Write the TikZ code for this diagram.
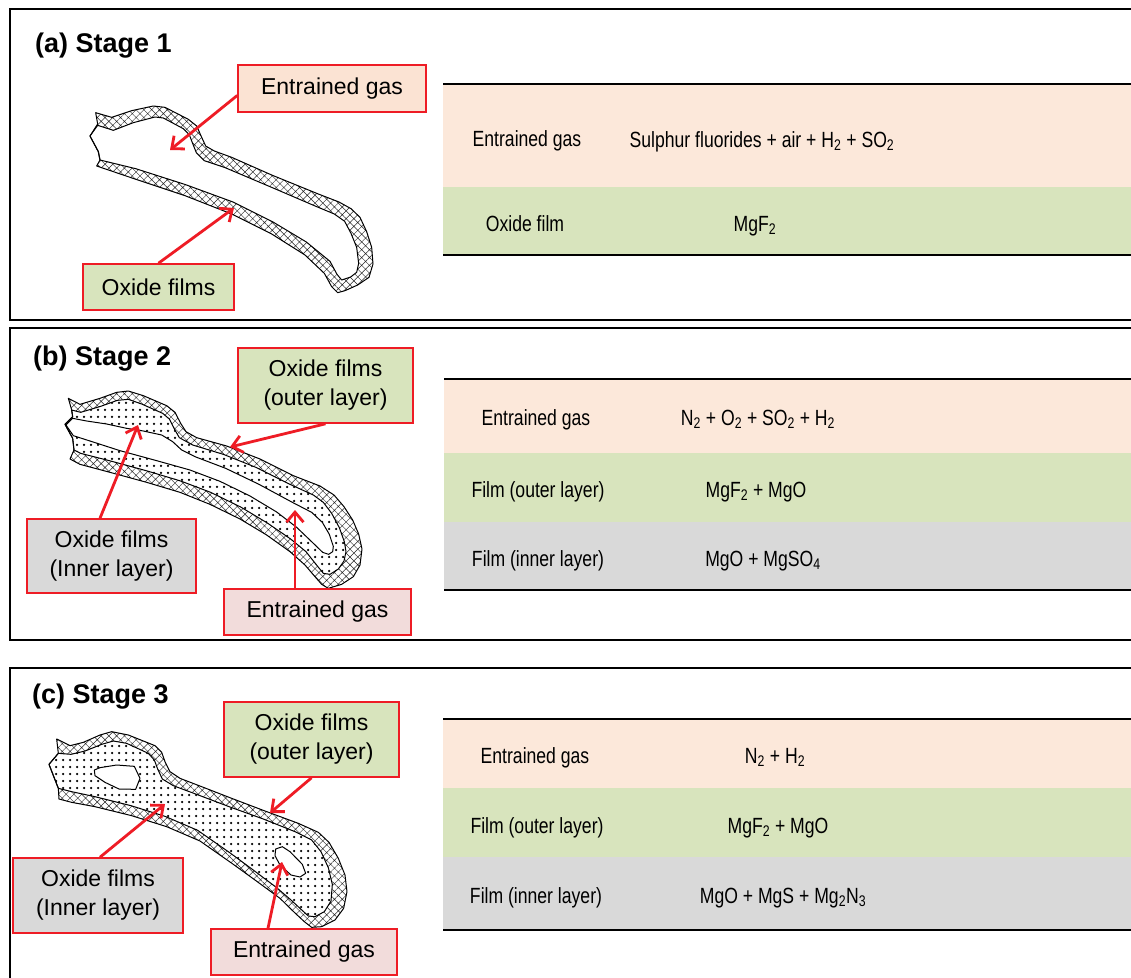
\documentclass[tikz,border=0pt]{standalone}
\usepackage{fontspec}
\setmainfont{Liberation Sans}
\newfontfamily\narrowfont[FakeStretch=0.8]{Liberation Sans}
\usetikzlibrary{patterns.meta,arrows.meta}
\definecolor{peach}{HTML}{FCE8DA}
\definecolor{peachbox}{HTML}{FBE3D3}
\definecolor{oliveg}{HTML}{D8E4BD}
\definecolor{greyrow}{HTML}{D9D9D9}
\definecolor{pinkbox}{HTML}{F2DCDB}
\definecolor{arrowred}{HTML}{EE1C25}
\newcommand{\shapeOA}{(32,38) -- (80,52) -- (140,32) -- (205,18) -- (240,22) -- (310,58) -- (335,78) -- (350,112) -- (362,138) -- (388,153) -- (440,172) -- (560,225) -- (700,282) -- (762,306) -- (798,326) -- (825,352) -- (845,395) -- (860,442) -- (864,492) -- (852,532) -- (818,555) -- (780,572) -- (758,578) -- (740,560) -- (718,520) -- (660,465) -- (560,402) -- (440,342) -- (300,287) -- (150,237) -- (35,198) -- (45,180) -- (40,155) -- (15,108) -- (38,72) -- cycle}
\newcommand{\shapeCA}{(38,76) -- (85,91) -- (145,68) -- (210,51) -- (235,54) -- (295,86) -- (313,104) -- (322,128) -- (334,158) -- (358,182) -- (418,202) -- (548,257) -- (688,317) -- (748,342) -- (779,364) -- (798,400) -- (815,442) -- (821,490) -- (815,517) -- (797,531) -- (770,540) -- (756,523) -- (735,484) -- (664,426) -- (564,366) -- (444,306) -- (302,254) -- (152,206) -- (45,180) -- (40,155) -- (15,108) -- cycle}
\newcommand{\shapeOB}{(25,40) -- (60,58) -- (120,40) -- (170,22) -- (205,18) -- (250,32) -- (320,62) -- (345,82) -- (362,115) -- (378,140) -- (410,158) -- (500,183) -- (600,222) -- (700,272) -- (780,303) -- (822,330) -- (852,365) -- (878,405) -- (896,447) -- (906,492) -- (900,540) -- (880,575) -- (845,598) -- (805,610) -- (785,598) -- (765,575) -- (735,540) -- (690,500) -- (620,450) -- (540,402) -- (450,358) -- (360,322) -- (260,292) -- (150,262) -- (60,238) -- (30,222) -- (42,195) -- (38,160) -- (15,118) -- (38,95) -- (35,75) -- cycle}
\newcommand{\shapeMB}{(35,75) -- (62,82) -- (122,64) -- (172,46) -- (205,43) -- (245,57) -- (308,85) -- (328,102) -- (342,130) -- (358,158) -- (398,180) -- (490,208) -- (590,248) -- (690,298) -- (760,330) -- (790,352) -- (815,385) -- (838,428) -- (853,470) -- (858,500) -- (852,528) -- (835,552) -- (810,568) -- (790,565) -- (768,538) -- (738,500) -- (692,462) -- (622,414) -- (542,366) -- (452,322) -- (362,288) -- (262,258) -- (152,228) -- (62,205) -- (42,195) -- (38,160) -- (15,118) -- (38,95) -- cycle}
\newcommand{\shapeCB}{(38,100) -- (80,108) -- (140,117) -- (200,130) -- (250,138) -- (305,150) -- (338,170) -- (365,195) -- (405,215) -- (497,250) -- (597,298) -- (697,352) -- (755,382) -- (787,412) -- (808,448) -- (820,484) -- (818,500) -- (806,508) -- (788,502) -- (758,473) -- (710,427) -- (650,381) -- (570,333) -- (480,289) -- (390,255) -- (290,227) -- (180,197) -- (90,168) -- (40,152) -- (18,120) -- cycle}
\newcommand{\shapeOC}{(35,42) -- (75,62) -- (115,52) -- (165,30) -- (200,20) -- (250,30) -- (330,62) -- (350,82) -- (360,110) -- (375,140) -- (405,160) -- (470,185) -- (560,220) -- (660,258) -- (760,295) -- (820,322) -- (852,352) -- (880,400) -- (900,450) -- (906,500) -- (896,550) -- (870,585) -- (830,605) -- (800,607) -- (778,590) -- (748,562) -- (705,520) -- (630,465) -- (565,418) -- (465,348) -- (365,305) -- (260,272) -- (150,245) -- (80,232) -- (42,222) -- (40,190) -- (12,118) -- (40,85) -- cycle}
\newcommand{\shapeMC}{(40,85) -- (78,88) -- (120,78) -- (170,58) -- (205,48) -- (245,55) -- (310,85) -- (328,105) -- (338,132) -- (352,162) -- (385,182) -- (460,210) -- (555,246) -- (655,282) -- (750,320) -- (800,345) -- (828,380) -- (850,428) -- (862,478) -- (858,528) -- (838,560) -- (810,575) -- (790,573) -- (765,550) -- (738,525) -- (695,488) -- (622,433) -- (557,385) -- (458,316) -- (360,274) -- (258,242) -- (150,215) -- (80,200) -- (40,190) -- (12,118) -- cycle}
\newcommand{\holeL}{(148,135) -- (165,128) -- (215,120) -- (268,124) -- (285,160) -- (272,193) -- (222,192) -- (180,172) -- (150,152) -- cycle}
\newcommand{\holeR}{(692,372) -- (712,365) -- (735,380) -- (772,418) -- (782,445) -- (765,456) -- (738,450) -- (705,420) -- (690,392) -- cycle}
\begin{document}
\begin{tikzpicture}[x=1pt,y=-1pt,
  panel/.style={draw=black, line width=1.8pt},
  lbl/.style={draw=arrowred, line width=1.6pt, font=\fontsize{23}{29}\selectfont, align=center, inner sep=0pt},
  redarrow/.style={draw=arrowred, line width=2.8pt, -{Straight Barb[length=10pt,width=17pt]}},
  tabtxt/.style={font=\narrowfont\fontsize{22}{26}\selectfont, anchor=base, inner sep=0pt},
  title/.style={font=\bfseries\fontsize{27}{32}\selectfont, anchor=base west, inner sep=0pt},
  tabline/.style={draw=black, line width=2.2pt},
  hatchfill/.style={pattern={Hatch[angle=45,distance=5.5pt,line width=0.45pt]}, pattern color=black!85},
  dotfill/.style={pattern={Dots[distance=7pt,radius=1.25pt]}, pattern color=black},
  outline/.style={draw=black, line width=1pt, line join=round}]
\useasboundingbox (0,0) rectangle (1131,977);
\clip (0,0) rectangle (1131,977);
\fill[white] (0,0) rectangle (1131,977);
% panels
\draw[panel] (10,9) rectangle (1150,320);
\draw[panel] (10,328) rectangle (1150,640);
\draw[panel] (10,668) rectangle (1150,995);
\node[title] (ta) at (35,52) {(a) Stage 1};
\node[title] (tb) at (33,365) {(b) Stage 2};
\node[title] (tc) at (32,703) {(c) Stage 3};
% ---- tables ----
\fill[peach] (443,84) rectangle (1140,187);
\fill[oliveg] (443,187) rectangle (1140,255);
\draw[tabline] (443,84) -- (1140,84);
\draw[tabline] (443,255) -- (1140,255);
\node[tabtxt] (a11) at (527,146) {Entrained gas};
\node[tabtxt] (a12) at (762,147) {Sulphur fluorides + air + H\textsubscript{2} + SO\textsubscript{2}};
\node[tabtxt] (a21) at (525,231) {Oxide film};
\node[tabtxt] (a22) at (755,231) {MgF\textsubscript{2}};
\fill[peach] (444,379) rectangle (1140,453);
\fill[oliveg] (444,453) rectangle (1140,522);
\fill[greyrow] (444,522) rectangle (1140,590);
\draw[tabline] (444,379) -- (1140,379);
\draw[tabline] (444,590) -- (1140,590);
\node[tabtxt] (b11) at (536,425) {Entrained gas};
\node[tabtxt] (b12) at (758,425) {N\textsubscript{2} + O\textsubscript{2} + SO\textsubscript{2} + H\textsubscript{2}};
\node[tabtxt] (b21) at (538,497) {Film (outer layer)};
\node[tabtxt] (b22) at (756,497) {MgF\textsubscript{2} + MgO};
\node[tabtxt] (b31) at (538,566) {Film (inner layer)};
\node[tabtxt] (b32) at (763,566) {MgO + MgSO\textsubscript{4}};
\fill[peach] (443,719) rectangle (1140,788);
\fill[oliveg] (443,788) rectangle (1140,857);
\fill[greyrow] (443,857) rectangle (1140,930);
\draw[tabline] (443,719) -- (1140,719);
\draw[tabline] (443,930) -- (1140,930);
\node[tabtxt] (c11) at (535,763) {Entrained gas};
\node[tabtxt] (c12) at (775,763) {N\textsubscript{2} + H\textsubscript{2}};
\node[tabtxt] (c21) at (537,833) {Film (outer layer)};
\node[tabtxt] (c22) at (778,833) {MgF\textsubscript{2} + MgO};
\node[tabtxt] (c31) at (536,903) {Film (inner layer)};
\node[tabtxt] (c32) at (783,903) {MgO + MgS + Mg\textsubscript{2}N\textsubscript{3}};
% ---- shapes ----
\begin{scope}[shift={(85,100)}, scale=0.33333]
  \fill[white] \shapeOA;
  \fill[hatchfill] \shapeOA;
  \fill[white] \shapeCA;
  \draw[outline] \shapeOA;
  \draw[outline] \shapeCA;
\end{scope}
\begin{scope}[shift={(60,385)}, scale=0.33333]
  \fill[white] \shapeOB;
  \fill[hatchfill] \shapeOB;
  \fill[white] \shapeMB;
  \fill[dotfill] \shapeMB;
  \fill[white] \shapeCB;
  \draw[outline] \shapeOB;
  \draw[outline] \shapeMB;
  \draw[outline] \shapeCB;
\end{scope}
\begin{scope}[shift={(45,725)}, scale=0.33333]
  \fill[white] \shapeOC;
  \fill[hatchfill] \shapeOC;
  \fill[white] \shapeMC;
  \fill[dotfill] \shapeMC;
  \fill[white] \holeL;
  \fill[white] \holeR;
  \draw[outline] \shapeOC;
  \draw[outline] \shapeMC;
  \draw[outline] \holeL;
  \draw[outline] \holeR;
\end{scope}
% ---- labels ----
\node[lbl, fill=peachbox, minimum width=188pt, minimum height=47pt] (agas) at (332,88.5) {Entrained gas};
\node[lbl, fill=oliveg, minimum width=151pt, minimum height=46pt] (aox) at (158.5,287) {Oxide films};
\node[lbl, fill=oliveg, minimum width=175pt, minimum height=75pt] (bout) at (325.5,385.5) {Oxide films\\(outer layer)};
\node[lbl, fill=greyrow, minimum width=169pt, minimum height=74pt] (bin) at (111.5,556) {Oxide films\\(Inner layer)};
\node[lbl, fill=pinkbox, minimum width=187pt, minimum height=46pt] (bgas) at (317.5,612) {Entrained gas};
\node[lbl, fill=oliveg, minimum width=175pt, minimum height=75pt] (cout) at (311.5,739.5) {Oxide films\\(outer layer)};
\node[lbl, fill=greyrow, minimum width=170pt, minimum height=75pt] (cin) at (98,895.5) {Oxide films\\(Inner layer)};
\node[lbl, fill=pinkbox, minimum width=186pt, minimum height=46pt] (cgas) at (304,952) {Entrained gas};
% ---- arrow tips ----
\coordinate (atip1) at (170,150);
\coordinate (atip2) at (234,208);
\coordinate (btip1) at (230,447);
\coordinate (btip2) at (138,425);
\coordinate (btip3) at (295,510);
\coordinate (ctip1) at (270,813);
\coordinate (ctip2) at (165,804);
\coordinate (ctip3) at (282,862);
\draw[redarrow] ([yshift=-7pt]agas.west) -- (atip1);
\draw[redarrow] (aox.north) -- (atip2);
\draw[redarrow] (bout.south) -- (btip1);
\draw[redarrow] ([xshift=-11.5pt]bin.north) -- (btip2);
\draw[redarrow] ([xshift=-22.5pt]bgas.north) -- (btip3);
\draw[redarrow] (cout.south) -- (ctip1);
\draw[redarrow] ([xshift=2pt]cin.north) -- (ctip2);
\draw[redarrow] ([xshift=-36pt]cgas.north) -- (ctip3);
\end{tikzpicture}
\end{document}
